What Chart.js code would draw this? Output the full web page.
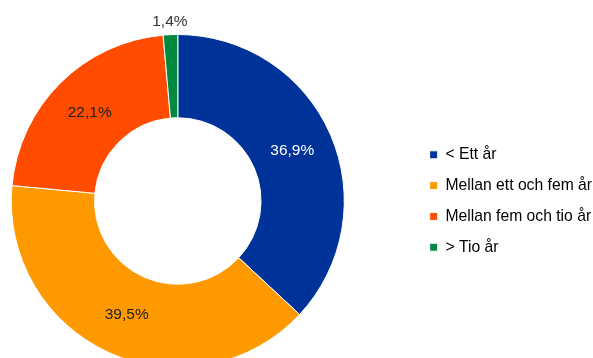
<!DOCTYPE html>
<html>
<head>
<meta charset="utf-8">
<script src="https://cdn.jsdelivr.net/npm/chart.js@4/dist/chart.umd.min.js"></script>
<style>
  html, body { margin: 0; padding: 0; background: #fff; overflow: hidden; }
  body { width: 593px; height: 358px; position: relative; }
  #chart { position: absolute; left: -59px; top: 0; }
</style>
</head>
<body>
<canvas id="chart" width="661" height="400"></canvas>
<script>
const categories = ['< Ett år', 'Mellan ett och fem år', 'Mellan fem och tio år', '> Tio år'];
const shares = [36.9, 39.5, 22.1, 1.4];

const COLORS = ['#003399', '#ff9900', '#ff4c00', '#00893f'];
const LABEL_COLORS = ['#ffffff', '#222222', '#222222', '#333333'];
const FONT = '"Liberation Sans", Arial, sans-serif';

const fmt = (v) => v.toFixed(1).replace('.', ',') + '%';

// percent labels on the slices, small slices get theirs outside
const sliceLabels = {
  id: 'sliceLabels',
  afterDatasetsDraw(chart) {
    const ctx = chart.ctx;
    const meta = chart.getDatasetMeta(0);
    ctx.save();
    ctx.font = '15.5px ' + FONT;
    ctx.textAlign = 'center';
    ctx.textBaseline = 'middle';
    meta.data.forEach((arc, i) => {
      const p = arc.getProps(['x', 'y', 'startAngle', 'endAngle', 'innerRadius', 'outerRadius'], true);
      const mid = (p.startAngle + p.endAngle) / 2;
      const r = shares[i] >= 5 ? (p.innerRadius + p.outerRadius) / 2 : p.outerRadius + 13;
      ctx.fillStyle = LABEL_COLORS[i];
      ctx.fillText(fmt(shares[i]), p.x + Math.cos(mid) * r, p.y + Math.sin(mid) * r);
    });
    ctx.restore();
  }
};

new Chart(document.getElementById('chart'), {
  type: 'doughnut',
  data: {
    labels: categories,
    datasets: [{
      data: shares,
      backgroundColor: COLORS,
      borderColor: '#ffffff',
      borderWidth: 1,
    }]
  },
  options: {
    responsive: false,
    animation: false,
    cutout: '50%',
    layout: { padding: { top: 34, bottom: 32, left: 0, right: 0 } },
    plugins: {
      legend: {
        display: true,
        position: 'right',
        labels: {
          boxWidth: 8,
          boxHeight: 8,
          padding: 15.1,
          color: '#000',
          font: { family: FONT, size: 15.7 }
        }
      },
      tooltip: { enabled: false },
      title: { display: false }
    }
  },
  plugins: [sliceLabels]
});
</script>
</body>
</html>
